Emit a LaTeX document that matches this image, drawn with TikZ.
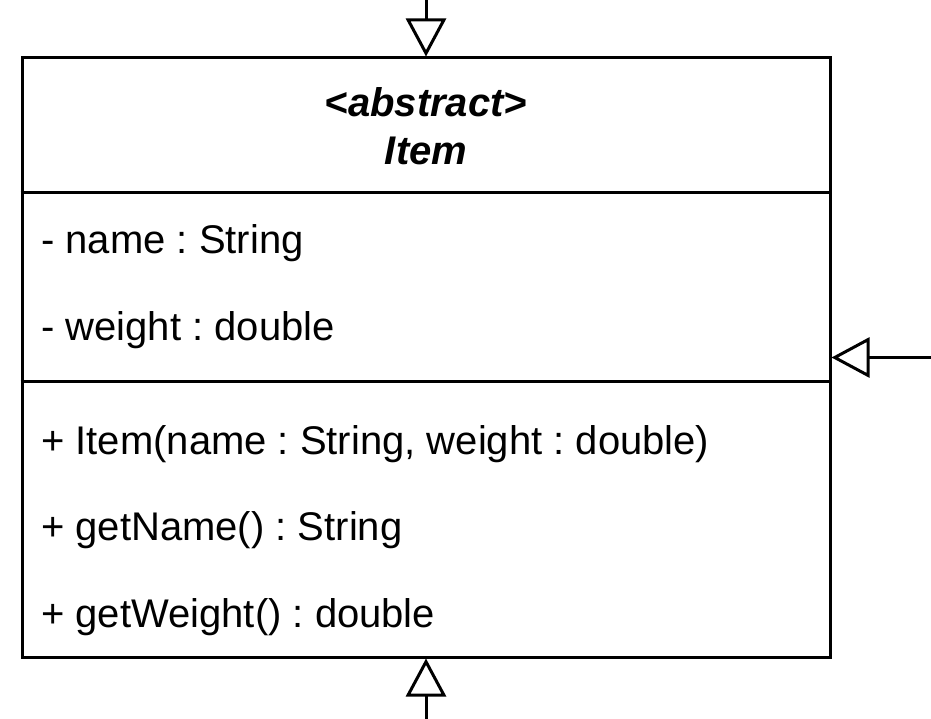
\documentclass[tikz,border=0pt]{standalone}
\usepackage{fontspec}
\setmainfont{Liberation Sans}
\frenchspacing
\usetikzlibrary{arrows.meta}
\tikzset{
	clase/.style={draw, line width=3pt, minimum width=808pt, minimum height=599pt, inner sep=0pt},
	miembro/.style={anchor=base west, inner sep=0pt, font=\fontsize{40}{48}\selectfont},
	titulo/.style={anchor=base, inner sep=0pt, font=\fontsize{40}{48}\selectfont\bfseries\itshape},
	herencia/.style={line width=3pt, -{Triangle[open, length=38pt, width=40pt]}}
}
\begin{document}
\begin{tikzpicture}[x=1pt, y=-1pt]
	\useasboundingbox (0,0) rectangle (931,719);
	\node[clase] (item) at (426,357.5) {}; %caja de la clase
	\draw[line width=3pt] (item.west |- 0,193) -- (item.east |- 0,193); %separador titulo
	\draw[line width=3pt] (item.west |- 0,381) -- (item.east |- 0,381); %separador atributos
	\node[titulo] (estereotipo) at (426,117) {<abstract>}; %titulo
	\node[titulo] (nombre) at (426,165) {Item};
	\node[miembro] (atrnombre) at (41,254) {- name : String}; %atributos
	\node[miembro] (atrpeso) at (41,340) {- weight : double};
	\node[miembro] (constructor) at (41,454) {+ Item(name : String, weight : double)}; %metodos
	\node[miembro] (getnombre) at (41,540) {+ getName() : String};
	\node[miembro] (getpeso) at (41,627) {+ getWeight() : double};
	\coordinate (arriba) at (426,0); %extremos libres de las flechas
	\coordinate (derecha) at (931,357.5);
	\coordinate (abajo) at (426,719);
	\draw[herencia] (arriba) -- (item.north);
	\draw[herencia] (derecha) -- (item.east);
	\draw[herencia] (abajo) -- (item.south);
\end{tikzpicture}
\end{document}
